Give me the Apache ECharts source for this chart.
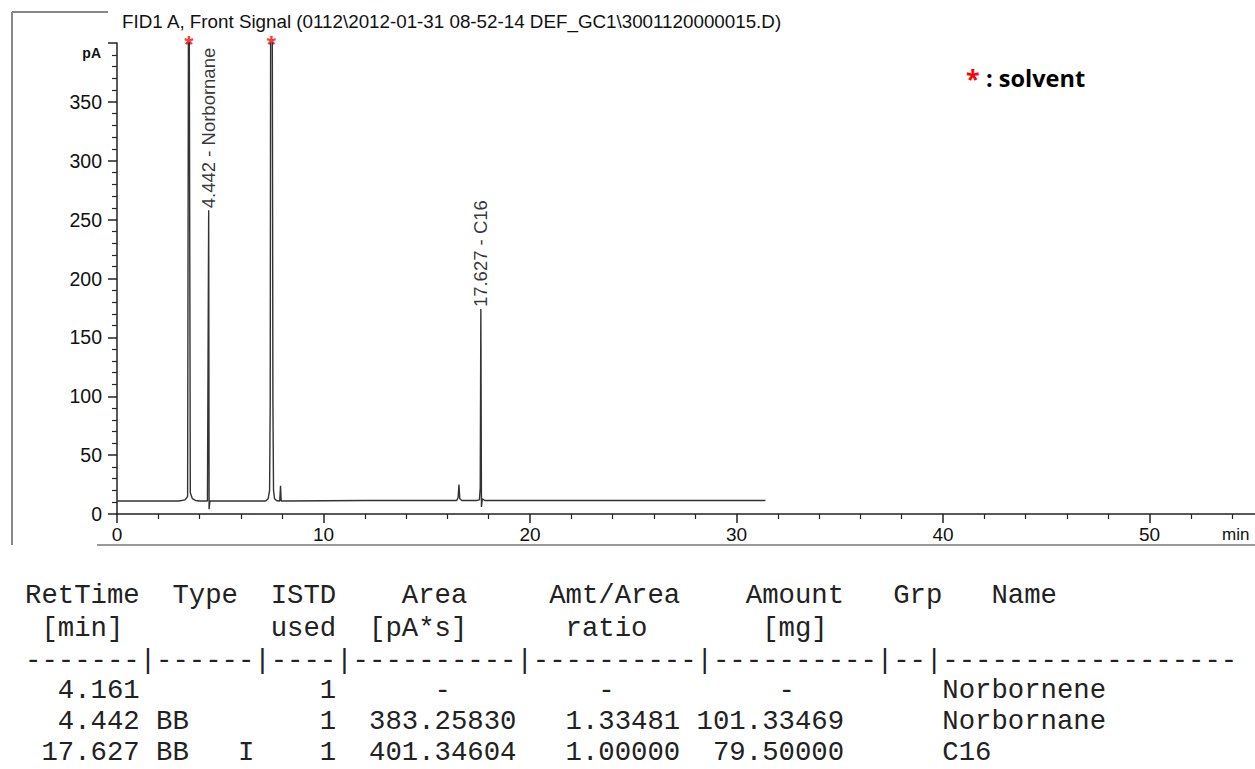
<!DOCTYPE html>
<html lang="en">
<head>
<meta charset="UTF-8">
<title>FID1 A, Front Signal</title>
<style>
  html, body { margin: 0; padding: 0; background: #fff; }
  #chart { width: 1255px; height: 769px; }
</style>
</head>
<body>
<div id="chart"></div>
<script src="https://cdn.jsdelivr.net/npm/echarts/dist/echarts.min.js"></script>
<script>
// chromatogram trace: time [min] / signal [pA]
var traceTime = [0, 1.5, 3.0, 3.3, 3.42, 3.46, 3.5, 3.55, 3.65, 3.8, 4.0, 4.38, 4.41, 4.44, 4.46, 4.5,
    6.9, 7.2, 7.32, 7.39, 7.42, 7.44, 7.52, 7.55, 7.58, 7.63, 7.72, 7.88, 7.92, 7.95, 8.1,
    12.0, 16.3, 16.45, 16.52, 16.56, 16.6, 16.7, 17.4, 17.55, 17.59, 17.62, 17.65, 17.69, 17.8, 18.0,
    25.0, 31.4];
var traceSignal = [11, 11, 11, 12, 15, 420, 420, 18, 13, 11.5, 11, 11, 11, 258, 4, 11,
    11, 11, 13, 20, 95, 420, 420, 95, 20, 13, 11.5, 11, 24, 11, 11,
    11.5, 11.5, 11.5, 14, 25, 13, 11.5, 11.5, 12, 22, 174, 6, 13, 11.5, 11.5,
    11.5, 11.5];

var solventTimes = [3.48, 7.48];
var peakTimes = ['4.442', '17.627'];
var peakHeights = [258, 174];
var peakNames = ['Norbornane', 'C16'];

// report table
var retTimes = ['4.161', '4.442', '17.627'];
var peakTypes = ['', 'BB', 'BB'];
var istdFlags = ['', '', 'I'];
var istdUsed = ['1', '1', '1'];
var areas = ['-', '383.25830', '401.34604'];
var amtAreaRatios = ['-', '1.33481', '1.00000'];
var amounts = ['-', '101.33469', '79.50000'];
var compoundNames = ['Norbornene', 'Norbornane', 'C16'];

var myChart = echarts.init(document.getElementById('chart'), null, {renderer: 'svg'});

// put text s into line starting at column col
function put(line, col, s) {
    while (line.length < col) line += ' ';
    return line + s;
}
// numbers right aligned to endCol, dash at dashCol
function cell(line, v, endCol, dashCol) {
    if (v === '-') return put(line, dashCol, v);
    return put(line, endCol - v.length + 1, v);
}

var tableLines = [];
var h1 = put(put(put(put(put(put(put(put('', 0, 'RetTime'), 9, 'Type'), 15, 'ISTD'), 23, 'Area'), 32, 'Amt/Area'), 44, 'Amount'), 53, 'Grp'), 59, 'Name');
var h2 = put(put(put(put(put('', 1, '[min]'), 15, 'used'), 21, '[pA*s]'), 33, 'ratio'), 45, '[mg]');
var h3 = [7, 6, 4, 10, 10, 10, 2, 18].map(function (n) { return '-'.repeat(n); }).join('|');
tableLines.push(h1, h2, h3);
for (var i = 0; i < retTimes.length; i++) {
    var l = put('', 7 - retTimes[i].length, retTimes[i]);
    if (peakTypes[i]) l = put(l, 8, peakTypes[i]);
    if (istdFlags[i]) l = put(l, 13, istdFlags[i]);
    l = put(l, 18, istdUsed[i]);
    l = cell(l, areas[i], 29, 25);
    l = cell(l, amtAreaRatios[i], 39, 35);
    l = cell(l, amounts[i], 49, 46);
    l = put(l, 56, compoundNames[i]);
    tableLines.push(l);
}
var tableY = [595, 628, 660, 690, 721, 752];

var axisColor = '#222';
var sansFont = 'Liberation Sans, Arial, sans-serif';

function txt(x, y, text, font, fill, align) {
    return {type: 'text', x: x, y: y, style: {
        text: text, fill: fill, font: font,
        textAlign: align, textVerticalAlign: 'middle', align: align, verticalAlign: 'middle'}};
}

var title = txt(122, 21, 'FID1 A, Front Signal (0112\\2012-01-31 08-52-14 DEF_GC1\\3001120000015.D)',
    '18.8px ' + sansFont, '#111', 'left');
title.style.lineHeight = 14;

var graphics = [
    // scan frame
    {type: 'line', shape: {x1: 12, y1: 12, x2: 12, y2: 545}, style: {stroke: '#888', lineWidth: 2}},
    {type: 'line', shape: {x1: 12, y1: 12, x2: 108, y2: 12}, style: {stroke: '#888', lineWidth: 2}},
    {type: 'line', shape: {x1: 97, y1: 545, x2: 1255, y2: 545}, style: {stroke: '#999', lineWidth: 2}},
    title,
    txt(101, 53, 'pA', 'bold 14px ' + sansFont, '#111', 'right'),
    txt(1222, 534, 'min', '17px ' + sansFont, '#111', 'left'),
    txt(966, 78, '*', 'bold 25px Open Sans, sans-serif', '#ff0000', 'left'),
    txt(986, 78, ': solvent', 'bold 23.5px Open Sans, sans-serif', '#000', 'left')
];
tableLines.forEach(function (t, k) {
    graphics.push(txt(25, tableY[k], t, '27.3px Liberation Mono, Courier New, monospace', '#222', 'left'));
});

var option = {
    animation: false,
    backgroundColor: '#fff',
    grid: {left: 117, right: -101, top: 43, bottom: 255, containLabel: false, outerBoundsMode: 'none'},
    xAxis: {
        type: 'value', min: 0, max: 60, interval: 10,
        axisLine: {lineStyle: {color: axisColor, width: 1.5}},
        axisTick: {show: true, length: 9, lineStyle: {color: axisColor, width: 1.5}},
        minorTick: {show: true, splitNumber: 5, length: 5, lineStyle: {color: axisColor, width: 1.2}},
        axisLabel: {
            color: '#111', fontSize: 19, fontFamily: sansFont, margin: 11,
            formatter: function (v) { return v > 55 ? '' : v; }
        },
        splitLine: {show: false}
    },
    yAxis: {
        type: 'value', min: 0, max: 400, interval: 50,
        axisLine: {show: true, lineStyle: {color: axisColor, width: 1.5}},
        axisTick: {show: true, length: 9, lineStyle: {color: axisColor, width: 1.5}},
        minorTick: {show: true, splitNumber: 5, length: 5, lineStyle: {color: axisColor, width: 1.2}},
        axisLabel: {
            color: '#111', fontSize: 19.5, fontFamily: sansFont, margin: 15,
            formatter: function (v) { return v === 400 ? '' : v; }
        },
        splitLine: {show: false}
    },
    series: [
        {
            name: 'FID1 A', type: 'line', showSymbol: false, symbol: 'none',
            lineStyle: {color: '#333', width: 1.4},
            data: traceTime.map(function (t, i) { return [t, traceSignal[i]]; })
        },
        {
            name: 'peaks', type: 'scatter', symbolSize: 0,
            data: peakTimes.map(function (t, i) { return [Number(t), peakHeights[i]]; }),
            label: {
                show: true, position: 'top', distance: 2, rotate: 90,
                align: 'left', verticalAlign: 'middle',
                color: '#000', fontSize: 18.5, fontFamily: sansFont,
                formatter: function (p) { return peakTimes[p.dataIndex] + ' - ' + peakNames[p.dataIndex]; }
            }
        },
        {
            name: 'solvent', type: 'scatter', symbolSize: 0,
            data: solventTimes.map(function (t) { return [t, 400]; }),
            label: {
                show: true, position: 'top', distance: -8, formatter: '*', lineHeight: 14,
                color: '#ff0000', fontSize: 24, fontWeight: 'bold', fontFamily: sansFont
            }
        }
    ],
    graphic: graphics
};
myChart.setOption(option);
</script>
</body>
</html>
